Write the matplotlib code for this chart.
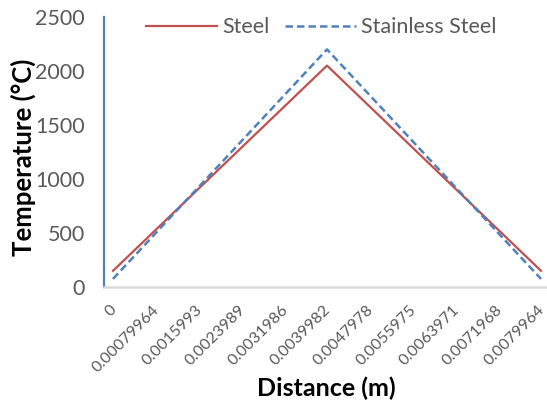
import matplotlib
matplotlib.use("Agg")
import matplotlib.pyplot as plt
import matplotlib.transforms as mtransforms

# distance labels (m) and temperature (deg C)
distance_labels = ["0", "0.00079964", "0.0015993", "0.0023989", "0.0031986",
                   "0.0039982", "0.0047978", "0.0055975", "0.0063971",
                   "0.0071968", "0.0079964"]
steel = [150, 530, 910, 1290, 1670, 2050, 1670, 1290, 910, 530, 150]
stainless = [75, 500, 925, 1350, 1775, 2200, 1775, 1350, 925, 500, 75]

plt.rcParams['font.family'] = ['Lato', 'DejaVu Sans']

fig = plt.figure(figsize=(5.47, 4.03), dpi=100)
ax = fig.add_axes([104 / 547, 116 / 403, 443 / 547, 270 / 403])

x = list(range(len(distance_labels)))
ax.plot(x, steel, color="#C0504D", lw=1.6, label="Steel")
ax.plot(x, stainless, color="#4F81BD", lw=1.8, ls=(0, (3, 1.6)), label="Stainless Steel")

ax.set_xlim(-0.21, 10.14)
ax.set_ylim(0, 2500)
ax.set_yticks([0, 500, 1000, 1500, 2000, 2500])
ax.set_xticks(x)
ax.set_xticklabels(distance_labels, rotation=45, ha="right", va="center",
                   rotation_mode="anchor", fontsize=11.5, color="#595959")
ax.tick_params(axis="y", labelsize=15.5, labelcolor="#595959", length=0, pad=14)
ax.tick_params(axis="x", length=0, pad=15)
# shift the slanted labels a little to the right
shift = mtransforms.ScaledTranslation(1.5 / 100, 0, fig.dpi_scale_trans)
for lab in ax.get_xticklabels():
    lab.set_transform(lab.get_transform() + shift)

for s in ["top", "right"]:
    ax.spines[s].set_visible(False)
ax.spines["left"].set_color("#4F81BD")
ax.spines["left"].set_linewidth(1.6)
ax.spines["bottom"].set_color("#D9D9D9")
ax.spines["bottom"].set_linewidth(1.8)

ax.set_xlabel("Distance (m)", fontsize=18, fontweight="bold")
ax.set_ylabel("Temperature (°C)", fontsize=18.5, fontweight="bold")
ax.xaxis.set_label_coords(0.501, -0.333)
ax.yaxis.set_label_coords(-0.153, 0.481)

leg = ax.legend(loc="upper center", bbox_to_anchor=(0.49, 1.07), ncol=2, frameon=False,
                fontsize=15.5, handlelength=3.3, columnspacing=0.7, handletextpad=0.25)
for t in leg.get_texts():
    t.set_color("#595959")

fig.savefig("out.png", dpi=100)
